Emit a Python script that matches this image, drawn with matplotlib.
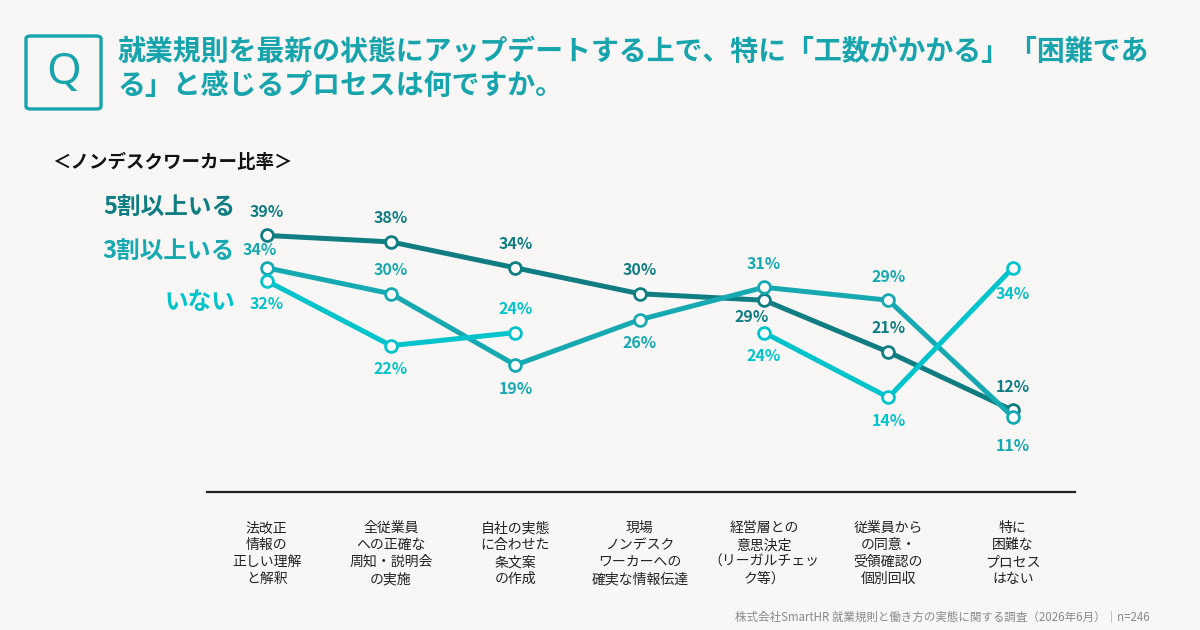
import matplotlib
matplotlib.use("Agg")
from matplotlib import pyplot as plt
from matplotlib.patches import FancyBboxPatch
import numpy as np

plt.rcParams['font.family'] = ['Noto Sans CJK JP', 'DejaVu Sans']

categories = [
    "法改正\n情報の\n正しい理解\nと解釈",
    "全従業員\nへの正確な\n周知・説明会\nの実施",
    "自社の実態\nに合わせた\n条文案\nの作成",
    "現場\nノンデスク\nワーカーへの\n確実な情報伝達",
    "経営層との\n意思決定\n（リーガルチェッ\nク等）",
    "従業員から\nの同意・\n受領確認の\n個別回収",
    "特に\n困難な\nプロセス\nはない",
]
series_names = ["5割以上いる", "3割以上いる", "いない"]
over50 = [39, 38, 34, 30, 29, 21, 12]
over30 = [34, 30, 19, 26, 31, 29, 11]
none_ = [32, 22, 24, np.nan, 24, 14, 34]

colors = ["#0f7d82", "#16a9b1", "#00c3cc"]
bg = "#f8f7f5"

# label offsets (points) for each value label
offs = [
    [(0, 17), (0, 17), (0, 17), (0, 17), (-9, -12), (0, 17), (0, 17)],
    [(-5, 13), (0, 17), (0, -17), (0, -17), (0, 17), (0, 17), (0, -21)],
    [(0, -17), (0, -17), (0, 17), None, (0, -17), (0, -17), (0, -19)],
]

fig = plt.figure(figsize=(12, 6.3), dpi=100, facecolor=bg)
ax = fig.add_axes([0.1725, 0.219, 0.7233, 0.469])
ax.set_facecolor(bg)

x = np.arange(len(categories))
for vals, c, off in zip([over50, over30, none_], colors, offs):
    ax.plot(x, vals, "-o", color=c, lw=3.6, ms=8.5, mfc="white", mec=c, mew=2.0,
            solid_capstyle="round", zorder=3)
    for xi, v, o in zip(x, vals, off):
        if o is None or np.isnan(v):
            continue
        ax.annotate(f"{v:.0f}%", (xi, v), xytext=o, textcoords="offset points",
                    ha="center", va="center", fontsize=11.5, fontweight="bold", color=c)

ax.set_xlim(-0.48, 6.5)
ax.set_ylim(-0.6, 45)
for s in ["top", "right", "left"]:
    ax.spines[s].set_visible(False)
ax.spines["bottom"].set_color("#222222")
ax.spines["bottom"].set_linewidth(1.6)
ax.set_yticks([])
ax.set_xticks(x)
ax.set_xticklabels(categories, fontsize=10, color="#222222", linespacing=1.27, va="top")
ax.tick_params(axis="x", length=0, pad=21)

# series names on the left
name_y = [208, 252, 302]
for name, c, yy in zip(series_names, colors, name_y):
    fig.text(235 / 1200, 1 - yy / 630, name, ha="right", va="center",
             fontsize=17, fontweight="bold", color=c)

# title block
title_c = "#17a4ac"
box = FancyBboxPatch((26 / 1200, 1 - 109 / 630), 75 / 1200, 73 / 630,
                     boxstyle="round,pad=0,rounding_size=0.004",
                     transform=fig.transFigure, fill=False, ec=title_c, lw=2.4)
fig.patches.append(box)
fig.text(63.5 / 1200, 1 - 73 / 630, "Q", ha="center", va="center",
         fontsize=32, fontweight="medium", color=title_c, family=["Noto Sans", "DejaVu Sans"])
fig.text(118 / 1200, 1 - 52 / 630,
         "就業規則を最新の状態にアップデートする上で、特に「工数がかかる」「困難であ",
         ha="left", va="center", fontsize=20.1, fontweight="bold", color=title_c)
fig.text(118 / 1200, 1 - 86 / 630, "る」と感じるプロセスは何ですか。",
         ha="left", va="center", fontsize=20.1, fontweight="bold", color=title_c)

fig.text(52 / 1200, 1 - 163 / 630, "＜ノンデスクワーカー比率＞", ha="left", va="center",
         fontsize=13.3, fontweight="bold", color="#111111")

fig.text(1150 / 1200, 1 - 617 / 630,
         "株式会社SmartHR 就業規則と働き方の実態に関する調査（2026年6月）｜n=246",
         ha="right", va="center", fontsize=8.3, color="#8a8a8a")

fig.savefig("out.png", dpi=100, facecolor=bg)
